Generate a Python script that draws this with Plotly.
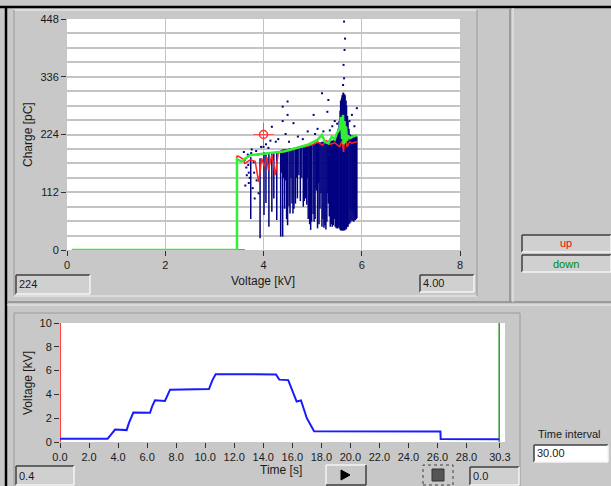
import plotly.graph_objects as go

# ---------------- data ----------------
# top chart: charge vs voltage (vertical streaks of discharge points: voltage, low charge, high charge)
streak_v = [3.74, 3.93, 4.01, 4.05, 4.11, 4.17, 4.21, 4.27, 4.35, 4.39, 4.43, 4.47, 4.49, 4.52, 4.54,
            4.58, 4.60, 4.62, 4.65, 4.69, 4.75, 4.81, 4.83, 4.86, 4.88, 4.91, 4.94, 4.96, 4.98, 5.01,
            5.03, 5.05, 5.10, 5.13, 5.15, 5.19, 5.21, 5.23, 5.25, 5.27, 5.29, 5.32, 5.34, 5.36, 5.38,
            5.40, 5.42, 5.44, 5.46, 5.48, 5.50, 5.51, 5.52, 5.54, 5.56, 5.57, 5.59, 5.60, 5.62, 5.63,
            5.65, 5.66, 5.68, 5.69, 5.71, 5.72, 5.74, 5.76, 5.78, 5.80, 5.82, 5.84, 5.86, 5.87, 5.89, 5.90]
streak_lo = [60, 23, 68, 91, 45, 74, 100, 58, 26, 26, 80, 60, 48, 85, 71,
             90, 71, 80, 90, 100, 95, 84, 95, 100, 88, 60, 50, 39, 55, 70,
             55, 60, 42, 50, 80, 45, 60, 43, 48, 40, 55, 90, 65, 45, 50,
             45, 48, 60, 45, 42, 42, 42, 45, 42, 40, 38, 38, 38, 38, 38,
             38, 40, 40, 42, 45, 45, 50, 52, 55, 58, 56, 55, 58, 58, 60, 62]
streak_hi = [180, 178, 190, 185, 188, 190, 190, 192, 193, 195, 195, 196, 196, 197, 197,
             198, 198, 198, 198, 199, 200, 200, 200, 201, 202, 203, 203, 203, 204, 205,
             205, 206, 207, 208, 208, 210, 210, 210, 210, 210, 211, 212, 212, 212, 212,
             212, 213, 215, 216, 220, 225, 230, 235, 250, 270, 290, 295, 300, 305, 305,
             302, 300, 290, 280, 260, 250, 235, 225, 222, 220, 222, 222, 222, 222, 220, 220]

band_v = [4.37, 4.41, 4.45, 4.56, 4.67, 4.72, 4.78, 4.89, 5.07, 5.08, 5.12, 5.17, 5.31, 5.77, 5.81, 5.85, 5.88]
band_lo = [150, 140, 135, 140, 140, 145, 140, 140, 120, 115, 130, 110, 110, 80, 75, 80, 85]
band_hi = [194, 195, 196, 198, 199, 200, 201, 202, 206, 207, 208, 209, 211, 222, 222, 222, 221]

dot_v = [3.60, 3.62, 3.65, 3.68, 3.70, 3.72, 3.75, 3.78, 3.80, 3.82, 3.85, 3.88, 3.90, 3.70, 3.66, 3.76,
         3.63, 3.69, 3.81, 3.86, 3.95, 4.39, 4.49, 4.49, 5.19, 5.32, 5.90, 5.80, 4.17, 4.61, 5.02, 5.30,
         5.64, 5.66, 5.65, 5.63, 5.64, 5.62, 4.90, 5.10, 5.40, 4.30, 4.45, 4.70, 5.45, 5.85, 5.75, 4.05,
         4.25, 4.10, 4.39, 4.52, 4.80, 5.05, 5.22, 5.35, 5.50, 4.00, 4.14]
dot_q = [190, 175, 160, 185, 150, 140, 188, 120, 170, 100, 192, 185, 110, 130, 145, 195,
         125, 165, 150, 135, 200, 278, 288, 262, 304, 291, 275, 262, 239, 246, 262, 268,
         443, 410, 388, 359, 333, 320, 230, 235, 240, 215, 225, 220, 250, 240, 250, 205,
         210, 198, 250, 210, 215, 225, 230, 232, 245, 200, 212]

up_v = [3.62, 3.46, 3.46, 3.49, 3.59, 3.62, 3.73, 3.83, 3.86, 3.90, 3.93, 3.96, 4.02, 4.07, 4.10,
        4.17, 4.24, 4.30, 4.37, 4.45, 4.58, 4.70, 4.85, 5.00, 5.10, 5.20, 5.28, 5.35, 5.45, 5.55,
        5.60, 5.63, 5.66, 5.70, 5.75, 5.80, 5.90]
up_q = [0, 0, 182, 182, 176, 168, 175, 172, 155, 132, 150, 178, 162, 180, 155,
        185, 145, 188, 191, 193, 197, 199, 200, 204, 210, 203, 212, 205, 208, 200,
        212, 190, 232, 200, 210, 207, 210]

down_v = [0.10, 3.46, 3.46, 3.55, 3.73, 4.00, 4.20, 4.41, 4.60, 4.75, 4.90, 5.09, 5.19, 5.25, 5.32,
          5.39, 5.45, 5.49, 5.55, 5.58, 5.60, 5.62, 5.63, 5.65, 5.66, 5.68, 5.70, 5.72, 5.76, 5.82, 5.90]
down_q = [0, 0, 176, 172, 184, 187, 188, 191, 196, 200, 204, 213, 223, 210, 207,
          220, 214, 226, 235, 258, 215, 262, 205, 250, 207, 240, 212, 222, 217, 220, 223]

cursor_v, cursor_q = 4.00, 224

# bottom chart: voltage vs time
time_s = [0.0, 3.28, 3.50, 3.79, 4.59, 4.75, 5.05, 6.20, 6.35, 6.54, 7.23, 7.40, 7.58, 10.26, 10.50,
          10.72, 14.88, 15.10, 15.72, 16.30, 16.60, 17.00, 17.50, 26.20, 26.22, 30.25]
volt_kv = [0.28, 0.28, 0.60, 1.04, 1.00, 1.60, 2.47, 2.45, 3.00, 3.50, 3.45, 3.90, 4.40, 4.45, 5.20,
           5.69, 5.68, 5.24, 5.20, 3.40, 3.50, 2.00, 0.90, 0.88, 0.25, 0.23]
start_t, end_t = 0.0, 30.25

top_xticks = [0, 2, 4, 6, 8]
top_yticks = [0, 112, 224, 336, 448]
bot_xticks = [0, 2, 4, 6, 8, 10, 12, 14, 16, 18, 20, 22, 24, 26, 28, 30.3]
bot_yticks = [0, 2, 4, 6, 8, 10]

# ---------------- figure ----------------
W, H = 611, 486
BG = "#c8c8c8"
FONT = "Liberation Sans"


def X(px):
    return px / W


def Y(py):
    return 1 - py / H


def segs(xs, lo, hi):
    sx, sy = [], []
    for x, a, b in zip(xs, lo, hi):
        sx += [x, x, None]
        sy += [a, b, None]
    return sx, sy


fig = go.Figure()

sx, sy = segs(streak_v, streak_lo, streak_hi)
fig.add_trace(go.Scatter(x=sx, y=sy, mode="lines", line=dict(color="#000080", width=1.5),
                         hoverinfo="skip", xaxis="x", yaxis="y"))
bx, by = segs(band_v, band_lo, band_hi)
fig.add_trace(go.Scatter(x=bx, y=by, mode="lines", line=dict(color="#000080", width=1.5),
                         hoverinfo="skip", xaxis="x", yaxis="y"))
fig.add_trace(go.Scatter(x=dot_v, y=dot_q, mode="markers",
                         marker=dict(color="#000080", size=2, symbol="square"),
                         xaxis="x", yaxis="y"))
fig.add_trace(go.Scatter(x=up_v, y=up_q, mode="lines", line=dict(color="#ff2020", width=1.5),
                         xaxis="x", yaxis="y"))
fig.add_trace(go.Scatter(x=down_v, y=down_q, mode="lines", line=dict(color="#33ee33", width=2.5),
                         xaxis="x", yaxis="y"))
# cursor
dv, dq = 0.21, 22
fig.add_trace(go.Scatter(x=[cursor_v - dv, cursor_v + dv, None, cursor_v, cursor_v],
                         y=[cursor_q, cursor_q, None, cursor_q - dq, cursor_q + dq],
                         mode="lines", line=dict(color="#ff5050", width=1), xaxis="x", yaxis="y"))
fig.add_trace(go.Scatter(x=[cursor_v], y=[cursor_q], mode="markers",
                         marker=dict(symbol="circle-open", size=8, color="#ff3030", line=dict(width=1.5)),
                         xaxis="x", yaxis="y"))

# bottom
fig.add_trace(go.Scatter(x=[start_t, start_t], y=[0, 10], mode="lines",
                         line=dict(color="#ff0000", width=1.5), xaxis="x2", yaxis="y2"))
fig.add_trace(go.Scatter(x=[end_t, end_t], y=[0, 10], mode="lines",
                         line=dict(color="#2a9a2a", width=1.5), xaxis="x2", yaxis="y2"))
fig.add_trace(go.Scatter(x=time_s, y=volt_kv, mode="lines",
                         line=dict(color="#1a1aff", width=2), xaxis="x2", yaxis="y2"))

tickfont = dict(size=11, family=FONT, color="#1a1a1a")
common = dict(ticks="outside", ticklen=5, tickcolor="#303030", zeroline=False, showline=False,
              tickfont=tickfont, fixedrange=True, automargin=False)

shapes = []


def line(x0, y0, x1, y1, color, width=1, dash="solid"):
    shapes.append(dict(type="line", xref="paper", yref="paper", x0=X(x0), y0=Y(y0), x1=X(x1), y1=Y(y1),
                       line=dict(color=color, width=width, dash=dash), layer="below"))


def rect(x0, y0, x1, y1, fill, color=None, width=0, dash="solid", layer="below"):
    shapes.append(dict(type="rect", xref="paper", yref="paper", x0=X(x0), y0=Y(y1), x1=X(x1), y1=Y(y0),
                       fillcolor=fill, line=dict(color=color or fill, width=width, dash=dash), layer=layer))


def sunken(x0, y0, x1, y1, fill="#d0d0d0"):
    rect(x0, y0, x1, y1, fill)
    line(x0, y0, x1, y0, "#404040", 1.5)
    line(x0, y0, x0, y1, "#404040", 1.5)
    line(x0, y1, x1, y1, "#f4f4f4", 1.5)
    line(x1, y0, x1, y1, "#f4f4f4", 1.5)


def raised(x0, y0, x1, y1, fill="#c8c8c8"):
    rect(x0, y0, x1, y1, fill)
    line(x0, y0, x1, y0, "#f4f4f4", 1.5)
    line(x0, y0, x0, y1, "#f4f4f4", 1.5)
    line(x0, y1, x1, y1, "#404040", 1.5)
    line(x1, y0, x1, y1, "#404040", 1.5)


# outer frame
line(0, 7, 611, 7, "#000000", 2.5)
line(6, 7, 6, 486, "#000000", 2.5)
# top panel
line(14, 10, 477, 10, "#f0f0f0", 1)
line(14, 10, 14, 296, "#9a9a9a", 1)
line(14, 296, 477, 296, "#f0f0f0", 1)
line(477, 10, 477, 296, "#9a9a9a", 1)
# separators
line(7, 302, 611, 302, "#8c8c8c", 1.5)
line(7, 305, 611, 305, "#ececec", 1)
line(510, 8, 510, 302, "#8c8c8c", 1.5)
line(513, 8, 513, 302, "#ececec", 1)
# bottom panel
line(14, 313, 520, 313, "#9a9a9a", 1)
line(14, 313, 14, 486, "#9a9a9a", 1)
line(520, 313, 520, 486, "#9a9a9a", 1)

# boxes
sunken(16, 275, 90, 294)
sunken(420, 275, 474, 292)
sunken(522, 235, 611, 252)
sunken(522, 255, 611, 272)
sunken(16, 466, 74, 485)
sunken(470, 467, 519, 485)
sunken(534, 445, 608, 462, fill="#ffffff")
raised(326, 465, 366, 485)
rect(423, 465, 453, 485, BG, "#404040", 1, "dot")
rect(432, 469, 444, 481, "#555555", "#333333", 1, layer="above")
shapes.append(dict(type="path", xref="paper", yref="paper",
                   path=f"M {X(341)},{Y(470)} L {X(350)},{Y(475)} L {X(341)},{Y(480)} Z",
                   fillcolor="#000000", line=dict(color="#000000", width=1)))

ann = []


def text(x, y, s, size=11, color="#1a1a1a", xanchor="left", angle=0):
    ann.append(dict(x=X(x), y=Y(y), xref="paper", yref="paper", text=s, showarrow=False,
                    xanchor=xanchor, yanchor="middle", textangle=angle,
                    font=dict(size=size, family=FONT, color=color)))


text(28, 135, "Charge [pC]", 12, angle=-90, xanchor="center")
text(263, 281, "Voltage [kV]", 12, xanchor="center")
text(28, 383, "Voltage [kV]", 12, angle=-90, xanchor="center")
text(281, 470, "Time [s]", 12, xanchor="center")
text(17, 284, "224")
text(421, 283, "4.00")
text(566, 243, "up", color="#ff0000", xanchor="center")
text(566, 264, "down", color="#008a00", xanchor="center")
text(17, 476, "0.4")
text(471, 476, "0.0")
text(536, 434, "Time interval", 11)
text(535, 453, "30.00")

fig.update_layout(
    width=W, height=H, margin=dict(l=0, r=0, t=0, b=0, pad=0, autoexpand=False),
    paper_bgcolor=BG, plot_bgcolor="#ffffff", showlegend=False,
    xaxis=dict(domain=[X(67), X(460)], range=[0, 8], tickvals=top_xticks,
               ticktext=[str(v) for v in top_xticks], showgrid=True, gridcolor="#c4c4c4",
               gridwidth=1, anchor="y", **common),
    yaxis=dict(domain=[Y(250), Y(19)], range=[0, 448], tickvals=top_yticks,
               ticktext=[str(v) for v in top_yticks], showgrid=True, gridcolor="#c4c4c4", gridwidth=2,
               minor=dict(dtick=28, tick0=0, showgrid=True, gridcolor="#c4c4c4", gridwidth=2, ticks=""),
               anchor="x", **common),
    xaxis2=dict(domain=[X(60), X(505)], range=[0, 30.65], tickvals=bot_xticks,
                ticktext=[f"{v:.1f}" for v in bot_xticks], showgrid=False, anchor="y2", **common),
    yaxis2=dict(domain=[Y(442), Y(323)], range=[0, 10], tickvals=bot_yticks,
                ticktext=[str(v) for v in bot_yticks], showgrid=False, anchor="x2", **common),
    shapes=shapes, annotations=ann,
)

fig.write_html("out.html", config={"displayModeBar": False},
               post_script="document.body.style.margin='0';document.body.style.overflow='hidden';")
